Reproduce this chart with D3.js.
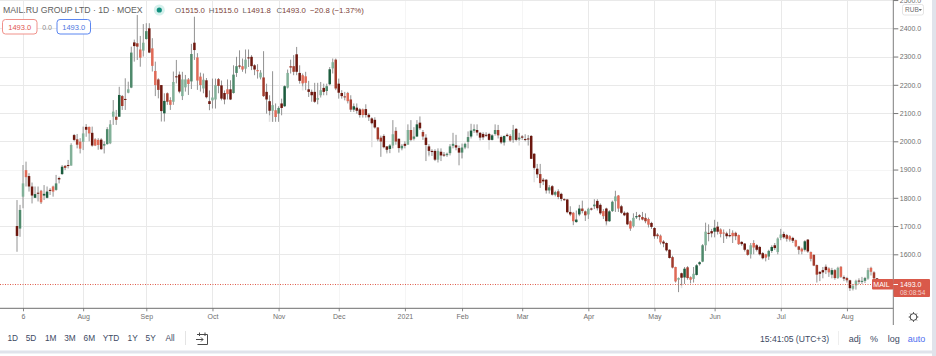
<!DOCTYPE html>
<html><head><meta charset="utf-8">
<script src="https://cdnjs.cloudflare.com/ajax/libs/d3/7.8.5/d3.min.js"></script>
<style>
html,body{margin:0;padding:0;background:#fff;overflow:hidden}
svg{display:block}
text{font-family:"Liberation Sans",Arial,sans-serif}
</style></head><body><div id="chart"></div>
<script>
const title = "MAIL.RU GROUP LTD · 1D · MOEX";
const opens = [
1700,1691,1804,1898,1877,1840,1800,1818,1825,1808,
1800,1828,1840,1828,1870,1884,1913,1916,1914,2022,
2007,1999,1998,2051,2051,2030,2007,2005,2006,1985,
1990,1993,2087,2087,2087,2160,2150,2172,2190,2350,
2347,2325,2321,2362,2400,2329,2249,2219,2199,2099,
2170,2146,2140,2230,2236,2160,2191,2219,2212,2349,
2297,2229,2187,2216,2142,2145,2148,2220,2198,2171,
2184,2184,2171,2242,2268,2266,2257,2297,2299,2269,
2252,2226,2226,2175,2142,2108,2110,2098,2134,2124,
2190,2266,2266,2308,2242,2234,2230,2184,2175,2175,
2147,2163,2189,2178,2202,2258,2289,2204,2171,2159,
2171,2148,2112,2119,2113,2113,2114,2094,2081,2076,
2049,2013,2019,1982,1973,1985,2037,2009,1975,1991,
1988,2040,2009,2017,2066,2033,2013,1982,1966,1966,
1935,1963,1953,1951,1958,1984,1986,1976,1960,1978,
1998,2017,2037,2040,2030,2026,2023,2026,2005,2026,
2040,2015,1996,2023,2019,2005,2044,2007,2017,2008,
2010,2019,1956,1903,1884,1864,1864,1826,1841,1811,
1823,1814,1795,1794,1750,1747,1714,1741,1762,1752,
1741,1762,1770,1789,1775,1753,1762,1717,1753,1788,
1808,1770,1747,1747,1717,1700,1731,1738,1732,1729,
1725,1711,1693,1670,1666,1645,1640,1616,1590,1555,
1510,1533,1518,1554,1519,1513,1527,1565,1574,1632,
1676,1682,1680,1698,1688,1677,1674,1668,1676,1676,
1668,1644,1638,1616,1600,1640,1632,1626,1604,1600,
1592,1612,1632,1608,1658,1672,1668,1664,1658,1650,
1628,1620,1616,1652,1608,1598,1562,1538,1544,1556,
1550,1528,1544,1516,1556,1519,1516,1508,1478,1490,
1507,1502,1506,1514,1552,1536,1515];
const highs = [
1792,1775,1916,1928,1887,1854,1840,1840,1828,1845,
1840,1834,1843,1881,1875,1916,1916,1934,1993,2026,
2026,2011,2052,2061,2052,2052,2011,2011,2011,2000,
2050,2075,2146,2111,2193,2164,2223,2211,2335,2360,
2447,2373,2415,2418,2418,2365,2282,2223,2199,2170,
2173,2156,2247,2288,2247,2246,2235,2224,2345,2441,
2312,2243,2240,2224,2180,2222,2222,2224,2215,2180,
2219,2216,2269,2299,2322,2293,2325,2325,2305,2273,
2273,2252,2319,2204,2163,2248,2134,2124,2151,2198,
2254,2289,2305,2334,2269,2240,2246,2214,2183,2207,
2207,2210,2204,2204,2263,2293,2293,2222,2181,2175,
2175,2163,2134,2134,2118,2116,2131,2100,2085,2085,
2050,2020,2025,1982,1990,2075,2050,2010,1990,2000,
2060,2075,2050,2075,2088,2040,2025,1990,1972,1972,
1975,1975,1962,1960,1990,2030,2023,1985,1992,1995,
2035,2062,2060,2060,2033,2032,2032,2030,2025,2060,
2058,2020,2020,2028,2025,2058,2047,2030,2022,2025,
2022,2022,1958,1920,1920,1870,1866,1845,1845,1825,
1830,1818,1798,1796,1770,1750,1755,1775,1790,1755,
1765,1765,1795,1795,1780,1760,1765,1756,1790,1825,
1810,1775,1752,1750,1720,1745,1750,1742,1750,1745,
1730,1715,1696,1675,1670,1650,1642,1618,1595,1556,
1518,1535,1555,1558,1522,1555,1565,1575,1636,1712,
1706,1690,1722,1715,1692,1688,1680,1690,1685,1680,
1670,1646,1640,1618,1640,1650,1636,1630,1608,1602,
1616,1632,1640,1660,1690,1680,1672,1668,1662,1652,
1630,1624,1650,1654,1610,1600,1564,1540,1555,1564,
1554,1552,1548,1556,1558,1525,1520,1510,1495,1510,
1515,1520,1520,1552,1556,1540,1515];
const lows = [
1609,1662,1763,1840,1822,1780,1800,1787,1778,1792,
1798,1810,1804,1825,1851,1881,1898,1904,1914,2000,
1975,1957,1969,2016,2000,1981,1983,1970,1970,1957,
1988,1990,2058,2058,2087,2111,2111,2170,2188,2282,
2288,2264,2300,2360,2312,2247,2160,2152,2070,2070,
2129,2111,2129,2205,2170,2146,2176,2164,2185,2288,
2182,2176,2170,2152,2110,2116,2116,2170,2145,2131,
2148,2146,2169,2228,2257,2246,2240,2263,2252,2234,
2222,2219,2157,2098,2092,2069,2069,2069,2092,2122,
2187,2240,2234,2234,2204,2195,2181,2157,2140,2136,
2131,2155,2163,2163,2198,2240,2181,2151,2151,2145,
2134,2104,2104,2098,2084,2084,2084,2072,2060,2045,
2000,1945,1975,1960,1958,1975,1988,1960,1968,1975,
1988,2000,2003,2015,2040,2005,1930,1950,1948,1930,
1925,1930,1945,1945,1950,1975,1968,1915,1940,1972,
1975,2010,2030,2020,2003,2005,2015,2003,2003,2020,
2010,1990,1985,2015,1998,1995,2000,2003,2005,2000,
1985,1938,1900,1870,1835,1845,1815,1815,1808,1805,
1795,1788,1790,1745,1735,1703,1712,1735,1745,1718,
1725,1755,1760,1755,1740,1725,1705,1715,1750,1750,
1750,1743,1735,1703,1683,1695,1725,1720,1720,1710,
1695,1690,1655,1655,1635,1625,1610,1585,1550,1500,
1466,1490,1495,1510,1497,1500,1525,1560,1572,1612,
1646,1660,1660,1670,1660,1640,1655,1660,1640,1650,
1633,1630,1610,1595,1585,1600,1610,1596,1582,1575,
1580,1605,1615,1600,1650,1655,1645,1645,1640,1625,
1600,1600,1610,1605,1575,1558,1500,1505,1515,1530,
1520,1515,1510,1513,1516,1505,1500,1470,1472,1475,
1495,1495,1498,1510,1525,1510,1491.8];
const closes = [
1665,1757,1851,1873,1840,1808,1813,1816,1784,1814,
1822,1826,1822,1851,1865,1910,1906,1914,1987,2005,
1988,1974,2028,2041,2028,1985,1985,1987,1972,1990,
2043,2060,2105,2076,2164,2125,2148,2184,2314,2337,
2335,2296,2349,2390,2314,2267,2199,2182,2107,2143,
2140,2129,2210,2228,2176,2219,2219,2203,2309,2323,
2215,2199,2218,2156,2132,2155,2199,2196,2151,2148,
2167,2148,2236,2266,2266,2254,2289,2295,2266,2254,
2248,2243,2160,2148,2108,2128,2086,2118,2118,2195,
2242,2261,2246,2246,2214,2205,2207,2175,2163,2140,
2153,2181,2175,2195,2255,2280,2187,2172,2160,2157,
2142,2112,2124,2108,2093,2093,2093,2085,2064,2049,
2007,1999,1979,1970,1985,2025,1999,1976,1984,1984,
2040,2005,2017,2060,2046,2017,1987,1966,1962,1935,
1966,1950,1950,1956,1982,1991,1978,1960,1978,1991,
2015,2038,2043,2031,2013,2014,2020,2005,2021,2040,
2021,1996,2019,2019,2003,2040,2005,2013,2013,2007,
2008,1938,1906,1883,1852,1858,1826,1837,1811,1820,
1803,1796,1793,1749,1741,1717,1723,1762,1753,1738,
1761,1760,1776,1763,1745,1735,1717,1752,1786,1805,
1762,1747,1738,1706,1691,1729,1735,1733,1723,1717,
1705,1697,1664,1664,1642,1638,1614,1587,1553,1504,
1516,1517,1549,1516,1510,1531,1561,1572,1632,1680,
1674,1674,1694,1680,1672,1675,1664,1664,1664,1664,
1636,1636,1616,1598,1632,1624,1616,1600,1586,1588,
1612,1626,1622,1656,1670,1660,1655,1652,1648,1628,
1616,1610,1646,1610,1584,1560,1528,1531,1536,1544,
1536,1544,1516,1552,1520,1514,1508,1480,1488,1506,
1505,1506,1516,1544,1538,1515,1493];
// 0 dark, 1 medium, 2 light
const tones = [
0,1,2,2,0,0,0,0,2,0,
0,0,2,1,0,0,1,0,2,0,
1,2,2,0,2,0,2,2,0,1,
1,2,2,1,0,1,0,2,1,0,
1,2,2,1,0,2,2,1,0,0,
1,2,2,0,0,2,2,2,1,0,
2,2,2,0,0,2,2,1,0,0,
2,0,1,1,0,2,2,0,0,0,
2,2,1,0,0,2,2,1,0,0,
2,1,1,0,0,2,2,0,0,0,
2,2,0,1,0,2,1,0,0,1,
2,1,0,0,0,2,0,0,0,0,
1,1,0,0,0,2,1,0,1,0,
2,1,1,0,0,1,0,0,0,0,
2,0,0,1,1,1,0,0,1,1,
1,0,1,0,0,0,0,0,0,1,
1,0,0,0,1,2,0,1,0,0,
0,0,0,0,1,0,0,1,0,1,
1,0,0,0,0,2,0,0,1,1,
2,0,1,0,0,2,0,0,1,2,
2,0,0,0,2,2,0,0,1,1,
2,0,0,1,2,0,0,0,1,2,
2,0,0,1,2,2,0,0,1,2,
0,0,0,0,2,2,0,0,2,1,
2,0,0,1,2,2,0,0,0,2,
1,0,0,2,2,0,1,2,0,2,
1,2,0,0,2,1,1,0,0,0,
2,0,1,2,2,0,1,0,2,2,
0,1,1,2,2,1,0];
const faintIndex = [84,85,95,118,123,137,148,157,167,172,196,221];
const faintLow   = [2069,2069,2180,1979,1955,1945,1938,1970,1985,1855,1700,1480];
const priceTicks = [2500,2400,2300,2200,2100,2000,1900,1800,1700,1600];
const faintPriceLines = [1900];
const monthIndex = [2,22,43,65,87,107,129,148,168,190,212,232,254,276];
const monthLabels = ["6","Aug","Sep","Oct","Nov","Dec","2021","Feb","Mar","Apr","May","Jun","Jul","Aug"];
const faintMonths = ["Dec","2021","Feb","Mar"];
const lastPrice = 1493.0;
const rangeButtons = ["1D","5D","1M","3M","6M","YTD","1Y","5Y","All"];
const rangeCenters = [12.7,31,50.7,70,89.3,111,132.7,150.7,170];
const ohlcLetters = ["O","H","L","C"];
const ohlcValues = ["1515.0","1515.0","1491.8","1493.0"];
const ohlcChange = "−20.8 (−1.37%)";

const W=936,H=356,axisX=893.3,axisY=308.3;
const svg=d3.select("#chart").append("svg").attr("width",W).attr("height",H);
const x=d3.scaleLinear().domain([0,opens.length-1]).range([17,877]);
const y=d3.scaleLinear().domain([1600,2400]).range([254.3,28.3]);
const gridC="#e9e9e9",gridF="#f5f5f5",textC="#6f6f6f";
const ff='"Liberation Sans",Arial,sans-serif';

// grid
const g=svg.append("g").attr("shape-rendering","crispEdges");
g.selectAll(".gx").data(monthIndex).join("line")
 .attr("x1",d=>Math.round(x(d))+.5).attr("x2",d=>Math.round(x(d))+.5).attr("y1",0).attr("y2",axisY)
 .attr("stroke",(d,i)=>faintMonths.includes(monthLabels[i])?gridF:gridC);
g.selectAll(".gy").data(priceTicks).join("line")
 .attr("x1",0).attr("x2",axisX).attr("y1",d=>Math.round(y(d))+.5).attr("y2",d=>Math.round(y(d))+.5)
 .attr("stroke",d=>faintPriceLines.includes(d)?gridF:gridC);

// candles
const idx=d3.range(opens.length);
const gc=svg.append("g");
const green=["#1c5c3e","#4f8a6c","#82b199"],red=["#6c170e","#a23b2c","#df6a57"];
gc.selectAll(".fw").data(faintIndex).join("line")
 .attr("x1",d=>x(d)).attr("x2",d=>x(d)).attr("y1",d=>y(Math.min(opens[d],closes[d])))
 .attr("y2",(d,i)=>y(faintLow[i])).attr("stroke","#e2e2e2").attr("stroke-width",1.6);
gc.selectAll(".w").data(idx).join("line")
 .attr("x1",d=>x(d)).attr("x2",d=>x(d)).attr("y1",d=>y(highs[d])).attr("y2",d=>y(lows[d]))
 .attr("stroke","#929292").attr("stroke-width",1);
gc.selectAll(".b").data(idx).join("rect")
 .attr("x",d=>x(d)-1.25).attr("width",2.5)
 .attr("y",d=>y(Math.max(opens[d],closes[d])))
 .attr("height",d=>Math.max(1,Math.abs(y(opens[d])-y(closes[d]))))
 .attr("fill",d=>(closes[d]>=opens[d]?green:red)[tones[d]]);

// last price line
svg.append("line").attr("x1",0).attr("x2",872).attr("y1",y(lastPrice)).attr("y2",y(lastPrice))
 .attr("stroke","#df5a48").attr("stroke-width",1).attr("stroke-dasharray","1 1.5");

// axes
const yAxis=svg.append("g").attr("transform",`translate(${axisX},0)`)
 .call(d3.axisRight(y).tickValues(priceTicks).tickSize(5).tickPadding(1.5).tickFormat(d3.format(".1f")));
yAxis.select(".domain").remove();
yAxis.selectAll("line").attr("stroke","#777");
yAxis.selectAll("text").attr("font-size",7).attr("fill",textC).style("font-family",ff);
const xAxis=svg.append("g").attr("transform",`translate(0,${axisY})`)
 .call(d3.axisBottom(x).tickValues(monthIndex).tickSize(3).tickPadding(2.5).tickFormat((d,i)=>monthLabels[i]));
xAxis.select(".domain").remove();
xAxis.selectAll("line").attr("stroke","#888");
xAxis.selectAll("text").attr("font-size",7).attr("fill",textC).style("font-family",ff);
svg.append("line").attr("x1",0).attr("x2",axisX).attr("y1",axisY).attr("y2",axisY).attr("stroke","#6f6f6f");
svg.append("line").attr("x1",axisX).attr("x2",axisX).attr("y1",0).attr("y2",325).attr("stroke","#7d7d7d");

// price labels
const redL="#d9594a";
svg.append("rect").attr("x",872).attr("y",279).attr("width",21.5).attr("height",10.5).attr("fill",redL).attr("rx",1);
svg.append("text").attr("x",881.5).attr("y",287).attr("text-anchor","middle").attr("font-size",7).attr("fill","#fff").text("MAIL");
svg.append("rect").attr("x",893.5).attr("y",279).attr("width",36.5).attr("height",18).attr("fill",redL).attr("rx",1);
svg.append("line").attr("x1",893.5).attr("x2",898).attr("y1",y(lastPrice)).attr("y2",y(lastPrice)).attr("stroke","#fff");
svg.append("text").attr("x",900).attr("y",287).attr("font-size",7).attr("fill","#fff").text(lastPrice.toFixed(1));
svg.append("text").attr("x",900).attr("y",295).attr("font-size",6.5).attr("fill","#f3d2cc").text("08:08:54");

// RUB
svg.append("rect").attr("x",902.5).attr("y",4.5).attr("width",21).attr("height",10.5).attr("rx",2).attr("fill","#fff").attr("stroke","#e4e4e4");
svg.append("text").attr("x",905).attr("y",12.3).attr("font-size",6.5).attr("fill",textC).text("RUB");
svg.append("path").attr("d","M918.5 9h3.5l-1.75 2z").attr("fill",textC);

// header
svg.append("text").attr("x",3).attr("y",13).attr("font-size",8.7).attr("fill","#616161").text(title);
svg.append("circle").attr("cx",159.3).attr("cy",10).attr("r",5.5).attr("fill","#d5f0ec");
svg.append("circle").attr("cx",159.3).attr("cy",10).attr("r",2.6).attr("fill","#12907f");
const hdr=svg.append("g").attr("font-size",7.8);
ohlcLetters.forEach((k,i)=>{
  const t=hdr.append("text").attr("x",175+i*33.8).attr("y",12.7);
  t.append("tspan").attr("fill","#666").text(k);
  t.append("tspan").attr("fill","#7c3f38").text(ohlcValues[i]);
});
hdr.append("text").attr("x",310).attr("y",12.7).attr("fill","#7c3f38").text(ohlcChange);

svg.append("rect").attr("x",2.5).attr("y",19.5).attr("width",34.5).attr("height",14.5).attr("rx",3).attr("fill","#fff").attr("stroke","#f0918a");
svg.append("text").attr("x",19.7).attr("y",30).attr("text-anchor","middle").attr("font-size",7.5).attr("fill","#e0564f").text("1493.0");
svg.append("text").attr("x",47).attr("y",30).attr("text-anchor","middle").attr("font-size",7).attr("fill","#8a8a8a").text("0.0");
svg.append("rect").attr("x",57).attr("y",19.5).attr("width",33.5).attr("height",14.5).attr("rx",3).attr("fill","#fff").attr("stroke","#5b86f0");
svg.append("text").attr("x",73.7).attr("y",30).attr("text-anchor","middle").attr("font-size",7.5).attr("fill","#4b76e0").text("1493.0");

// toolbar
const tb=svg.append("g");
tb.selectAll("text").data(rangeButtons).join("text").attr("x",(d,i)=>rangeCenters[i]).attr("y",341.3)
 .attr("text-anchor","middle").attr("font-size",8.3).attr("fill","#3d4a63").text(d=>d);
svg.append("line").attr("x1",185.5).attr("x2",185.5).attr("y1",331).attr("y2",345).attr("stroke","#e4e4e4");
svg.append("path").attr("d","M197 334.5h10.5v10h-10M199.5 332.5v3.5M205 332.5v3.5M196 339.5h7m-2-2 2 2-2 2").attr("fill","none").attr("stroke","#4a4a4a").attr("stroke-width",1);
svg.append("text").attr("x",760).attr("y",341.5).attr("font-size",8.6).attr("fill","#3d4a63").text("15:41:05 (UTC+3)");
svg.append("line").attr("x1",838.5).attr("x2",838.5).attr("y1",331).attr("y2",345).attr("stroke","#eee");
svg.append("text").attr("x",848.7).attr("y",341.5).attr("font-size",9).attr("fill","#3d4a63").text("adj");
svg.append("text").attr("x",870).attr("y",341.5).attr("font-size",9).attr("fill","#3d4a63").text("%");
svg.append("text").attr("x",887.7).attr("y",341.5).attr("font-size",9).attr("fill","#3d4a63").text("log");
svg.append("text").attr("x",907.7).attr("y",341.5).attr("font-size",9).attr("fill","#4f6ef0").text("auto");
// gear
const gear=svg.append("g").attr("transform","translate(913.5,317)");
gear.append("circle").attr("r",3.4).attr("fill","none").attr("stroke","#444");
d3.range(8).forEach(i=>{const a=i*Math.PI/4;gear.append("line").attr("x1",3.4*Math.cos(a)).attr("y1",3.4*Math.sin(a)).attr("x2",4.8*Math.cos(a)).attr("y2",4.8*Math.sin(a)).attr("stroke","#444");});
// frame bands
svg.append("rect").attr("x",0).attr("y",350.5).attr("width",W).attr("height",3).attr("fill","#e0e3eb");
svg.append("rect").attr("x",932).attr("y",0).attr("width",4).attr("height",H).attr("fill","#e0e3eb");
</script></body></html>
